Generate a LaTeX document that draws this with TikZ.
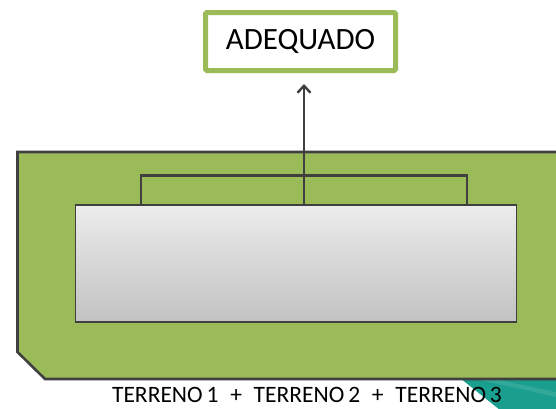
\documentclass[tikz,border=0pt]{standalone}
\usepackage{fontspec}
\setmainfont{Carlito}
\usetikzlibrary{arrows.meta}
\definecolor{leaf}{HTML}{9BBB59}
\definecolor{edge}{HTML}{404040}
\definecolor{teal}{HTML}{1A9E8E}
\begin{document}
\begin{tikzpicture}[x=1pt,y=-1pt,
  outline/.style={draw=edge,line width=2.6pt},
  panel/.style={draw=edge,line width=1.3pt,top color=gray!15,bottom color=gray!48,minimum width=441pt,minimum height=117pt,inner sep=0pt},
  labelbox/.style={draw=leaf,line width=5pt,fill=white,rounded corners=1.5pt,minimum width=190pt,minimum height=58pt,inner sep=0pt,font=\fontsize{31}{36}\selectfont},
  caption/.style={font=\fontsize{23.5}{26}\selectfont,inner sep=0pt,text depth=0pt,anchor=base}]
\useasboundingbox (0,0) rectangle (556,408);
\begin{scope}
\clip (0,0) rectangle (556,408);
\fill[teal] (460,378) -- (570,378) -- (570,410) -- (500,410) -- cycle;
\fill[teal!70!white,opacity=0.35] (490,378) -- (570,395) -- (570,400) -- (480,380) -- cycle;
\draw[outline,fill=leaf] (580,152) -- (17.5,152) -- (17.5,352) -- (45,379) -- (580,379);
\end{scope}
\node[panel] (gbox) at (296.3,263.5) {};
\coordinate (bl) at (141,175.5);
\coordinate (br) at (467,175.5);
\draw[edge,line width=2.6pt] (bl |- gbox.north) -- (bl) -- (br) -- (br |- gbox.north);
\node[labelbox] (ad) at (300.5,41.5) {ADEQUADO};
\coordinate (stem) at (304,0);
\draw[edge,line width=2.4pt,-{Straight Barb[length=7pt,width=13pt,line width=2.4pt]}] (stem |- gbox.north) -- ([yshift=-11pt]stem |- ad.south);
\node[caption] (terr) at (307,402) {TERRENO\,1\enspace+\enspace TERRENO\,2\enspace+\enspace TERRENO\,3};
\end{tikzpicture}
\end{document}
